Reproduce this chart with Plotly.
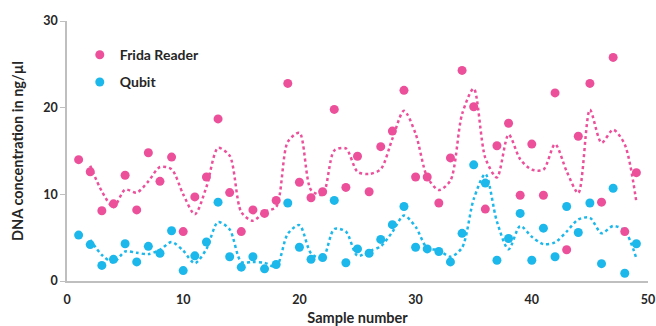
import plotly.graph_objects as go

samples = list(range(1, 50))
frida = [14.0, 12.6, 8.1, 8.9, 12.2, 8.2, 14.8, 11.5, 14.3, 5.7,
         9.7, 12.0, 18.7, 10.2, 5.7, 8.2, 7.8, 9.3, 22.8, 11.4,
         9.6, 10.3, 19.8, 10.8, 14.4, 10.3, 15.5, 17.3, 22.0, 12.0,
         12.0, 9.0, 14.2, 24.3, 20.1, 8.3, 15.6, 18.2, 9.9, 15.8,
         9.9, 21.7, 3.6, 16.7, 22.8, 9.1, 25.8, 5.7, 12.5]
qubit = [5.3, 4.2, 1.8, 2.5, 4.3, 2.2, 4.0, 3.2, 5.8, 1.2,
         2.9, 4.5, 9.1, 2.8, 1.6, 2.8, 1.4, 1.9, 9.0, 3.9,
         2.5, 2.7, 9.3, 2.1, 3.7, 3.2, 4.8, 6.5, 8.6, 3.9,
         3.7, 3.4, 2.2, 5.5, 13.4, 11.3, 2.4, 4.9, 7.8, 2.4,
         6.1, 2.8, 8.6, 5.6, 9.0, 2.0, 10.7, 0.9, 4.3]

PINK = "#EC509B"
BLUE = "#1DB8EB"
TXT = "#262626"

def moving_avg(vals):
    return [(vals[i - 1] + vals[i]) / 2 for i in range(1, len(vals))]

fig = go.Figure()
fig.add_trace(go.Scatter(x=samples[1:], y=moving_avg(frida), mode="lines",
                         line=dict(color=PINK, width=2.5, dash="dot", shape="spline", smoothing=0.8),
                         showlegend=False, hoverinfo="skip"))
fig.add_trace(go.Scatter(x=samples[1:], y=moving_avg(qubit), mode="lines",
                         line=dict(color=BLUE, width=2.5, dash="dot", shape="spline", smoothing=0.8),
                         showlegend=False, hoverinfo="skip"))
fig.add_trace(go.Scatter(x=samples, y=frida, mode="markers", name="Frida Reader",
                         legendgroup="a", marker=dict(color=PINK, size=9)))
fig.add_trace(go.Scatter(x=samples, y=qubit, mode="markers", name="Qubit",
                         legendgroup="b", marker=dict(color=BLUE, size=9)))

fig.update_layout(
    width=656, height=326,
    margin=dict(l=67, r=8, t=21, b=45, autoexpand=False),
    paper_bgcolor="white", plot_bgcolor="white",
    font=dict(family="Lato", size=12.5, color=TXT, weight="bold"),
    legend=dict(x=0.022, y=0.93, xanchor="left", yanchor="top",
                font=dict(size=14, family="Lato", color=TXT, weight="bold"),
                tracegroupgap=6, itemwidth=30, bgcolor="rgba(0,0,0,0)"),
    xaxis=dict(range=[0, 50], tickvals=[0, 10, 20, 30, 40, 50], showgrid=False,
               zeroline=False, showline=True, linecolor="#BFBFBF", linewidth=1.5,
               ticks="outside", ticklen=6, tickcolor="rgba(0,0,0,0)", automargin=False,
               ticklabeloverflow="allow",
               title=dict(text="Sample number", font=dict(size=14.5, weight="bold"), standoff=9)),
    yaxis=dict(range=[0, 30], tickvals=[0, 10, 20, 30], showgrid=False,
               zeroline=False, showline=True, linecolor="#BFBFBF", linewidth=1.5,
               ticks="outside", ticklen=5, tickcolor="#BFBFBF", automargin=False,
               title=dict(text="DNA concentration in ng/µl", font=dict(size=14.5, weight="bold"), standoff=16)),
)

fig.write_html("out.html", config={"displayModeBar": False},
               post_script="document.body.style.margin='0';document.body.style.overflow='hidden';")
